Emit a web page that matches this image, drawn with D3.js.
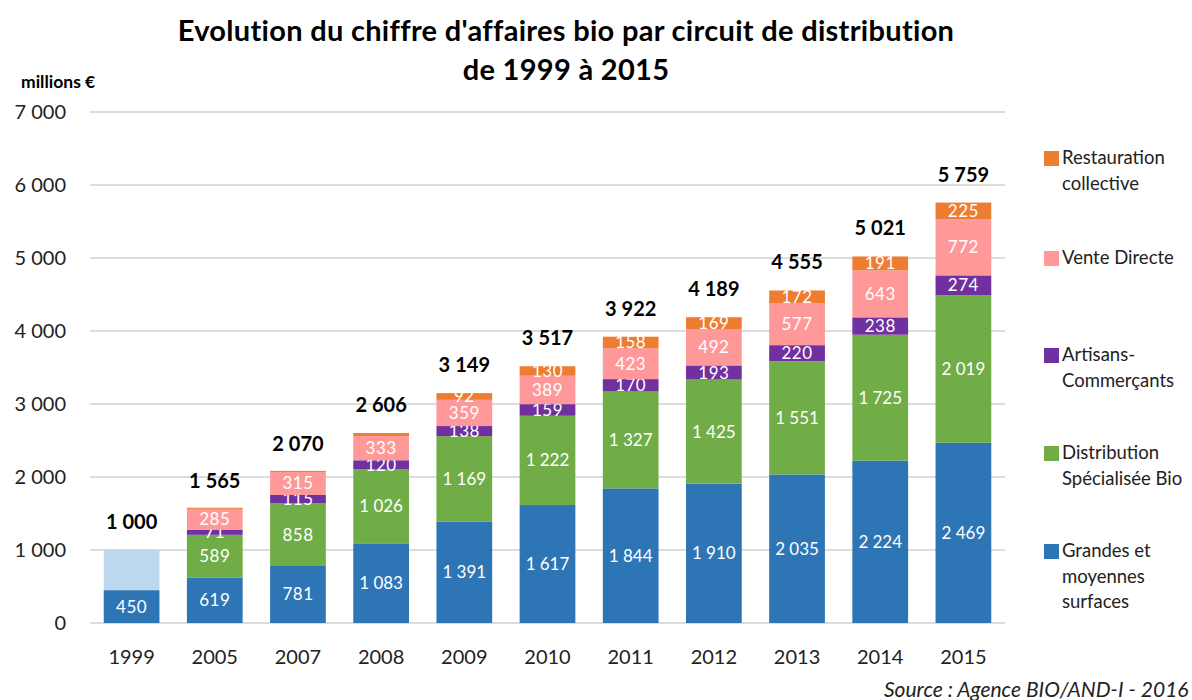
<!DOCTYPE html>
<html lang="fr">
<head>
<meta charset="UTF-8">
<title>Evolution du chiffre d'affaires bio</title>
<script src="https://d3js.org/d3.v7.min.js"></script>
<style>
  body { margin: 0; background: #fff; }
  svg { display: block; font-family: Lato, "Open Sans", sans-serif; }
</style>
</head>
<body>
<div id="chart"></div>
<script>
// Data (millions €)
const years = ["1999", "2005", "2007", "2008", "2009", "2010", "2011", "2012", "2013", "2014", "2015"];
const gms = [450, 619, 781, 1083, 1391, 1617, 1844, 1910, 2035, 2224, 2469];
const distribBio = [0, 589, 858, 1026, 1169, 1222, 1327, 1425, 1551, 1725, 2019];
const artisans = [0, 71, 115, 120, 138, 159, 170, 193, 220, 238, 274];
const venteDirecte = [0, 285, 315, 333, 359, 389, 423, 492, 577, 643, 772];
const restauration = [0, 15, 15, 40, 92, 130, 158, 169, 172, 191, 225];
const autres1999 = [550, 0, 0, 0, 0, 0, 0, 0, 0, 0, 0]; // 1999 : reste non ventilé
const totals = [1000, 1565, 2070, 2606, 3149, 3517, 3922, 4189, 4555, 5021, 5759];
const yTicks = [0, 1000, 2000, 3000, 4000, 5000, 6000, 7000];

const series = [
  { key: "gms", name: ["Grandes et", "moyennes", "surfaces"], values: gms, color: "#2e75b6" },
  { key: "autres", name: null, values: autres1999, color: "#bdd7ee" },
  { key: "bio", name: ["Distribution", "Spécialisée Bio"], values: distribBio, color: "#70ad47" },
  { key: "art", name: ["Artisans-", "Commerçants"], values: artisans, color: "#7030a0" },
  { key: "vd", name: ["Vente Directe"], values: venteDirecte, color: "#ff9999" },
  { key: "resto", name: ["Restauration", "collective"], values: restauration, color: "#ed7d31" }
];
const labelled = { gms: true, bio: true, art: true, vd: true, resto: true };

const width = 1192, height = 700;
const margin = { left: 90, right: 187, top: 112, bottom: 77 };

const svg = d3.select("#chart").append("svg")
  .attr("width", width).attr("height", height);

const x = d3.scaleBand().domain(years)
  .range([margin.left, width - margin.right])
  .paddingInner(0.33).paddingOuter(0.165);
const y = d3.scaleLinear().domain([0, 7000]).range([height - margin.bottom, margin.top]);

const fmt = v => d3.format(",")(v).replace(/,/g, "\u202f");

// gridlines
svg.append("g").selectAll("line").data(yTicks).join("line")
  .attr("x1", margin.left).attr("x2", width - margin.right)
  .attr("y1", d => y(d)).attr("y2", d => y(d))
  .attr("stroke", "#d0d0d0").attr("stroke-width", 1.3);

// y tick labels
svg.append("g").selectAll("text").data(yTicks).join("text")
  .attr("x", 66).attr("y", d => y(d) + 7)
  .attr("text-anchor", "end").attr("font-size", 20).attr("fill", "#222")
  .text(d => fmt(d));

// stack
const rows = years.map((yr, i) => {
  const r = { year: yr };
  series.forEach(s => r[s.key] = s.values[i]);
  return r;
});
const stack = d3.stack().keys(series.map(s => s.key))(rows);

stack.forEach((layer, li) => {
  const s = series[li];
  const g = svg.append("g");
  g.selectAll("rect").data(layer).join("rect")
    .attr("x", d => x(d.data.year))
    .attr("width", x.bandwidth())
    .attr("y", d => y(d[1]))
    .attr("height", d => y(d[0]) - y(d[1]))
    .attr("fill", s.color);
  if (labelled[s.key]) {
    g.selectAll("text").data(layer.filter(d => d[1] - d[0] >= 70)).join("text")
      .attr("x", d => x(d.data.year) + x.bandwidth() / 2)
      .attr("y", d => (y(d[0]) + y(d[1])) / 2 + 6)
      .attr("text-anchor", "middle").attr("font-size", 17).attr("fill", "#fff")
      .attr("letter-spacing", 0.5)
      .text(d => fmt(d[1] - d[0]));
  }
});

// totals
svg.append("g").selectAll("text").data(years).join("text")
  .attr("x", d => x(d) + x.bandwidth() / 2)
  .attr("y", (d, i) => y(totals[i]) - 21)
  .attr("text-anchor", "middle").attr("font-size", 20).attr("font-weight", "bold").attr("fill", "#000")
  .text((d, i) => fmt(totals[i]));

// x labels
svg.append("g").selectAll("text").data(years).join("text")
  .attr("x", d => x(d) + x.bandwidth() / 2)
  .attr("y", 664)
  .attr("text-anchor", "middle").attr("font-size", 20).attr("fill", "#222")
  .text(d => d);

// title
const title = svg.append("text").attr("x", 566).attr("text-anchor", "middle")
  .attr("font-size", 29).attr("font-weight", "bold").attr("fill", "#000")
  .attr("letter-spacing", 0.3);
title.append("tspan").attr("x", 566).attr("y", 41).text("Evolution du chiffre d'affaires bio par circuit de distribution");
title.append("tspan").attr("x", 566).attr("y", 80).text("de 1999 à 2015");

svg.append("text").attr("x", 21).attr("y", 88)
  .attr("font-size", 17.5).attr("font-weight", "bold").text("millions €");

// legend
const legendItems = [
  { s: series[5], y: 158 },
  { s: series[4], y: 258 },
  { s: series[3], y: 355 },
  { s: series[2], y: 453 },
  { s: series[0], y: 551 }
];
const lg = svg.append("g");
legendItems.forEach(it => {
  lg.append("rect").attr("x", 1044).attr("y", it.y - 7).attr("width", 15).attr("height", 15).attr("fill", it.s.color);
  const t = lg.append("text").attr("font-size", 18.5).attr("fill", "#222");
  it.s.name.forEach((ln, k) => {
    t.append("tspan").attr("x", 1062).attr("y", it.y + 6 + k * 25.5).text(ln);
  });
});

// source
svg.append("text").attr("x", 884).attr("y", 697)
  .attr("font-size", 21).attr("font-style", "italic").attr("fill", "#222")
  .text("Source : Agence BIO/AND-I - 2016");
</script>
</body>
</html>
